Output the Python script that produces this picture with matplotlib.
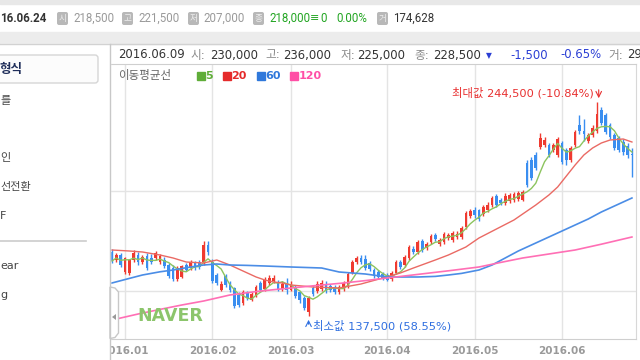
import matplotlib
matplotlib.use('Agg')
import matplotlib.pyplot as plt
from matplotlib.patches import Rectangle, FancyBboxPatch, Polygon
import numpy as np
import pandas as pd

# daily candles in thousand won, 2015-12-28 .. 2016-06-24 (120 trading days)
opens = [169.5, 165.5, 168, 159.5, 159, 165.5, 168, 164.5, 167.5, 166.5,
         166.5, 164.5, 165.5, 163, 161.5, 156, 157, 163, 161.5, 164.5,
         164.5, 164.5, 173, 164.5, 158, 150.5, 157.5, 154, 151.5, 148,
         144, 149, 145.5, 148, 154, 151, 154, 155, 154.5, 151,
         154, 150.5, 152, 149.5, 146.5, 139.5, 151.5, 150, 151, 153.5,
         152.5, 152, 149.5, 151, 152, 159, 164.5, 166.5, 166, 164,
         160.5, 159.5, 158.5, 158, 156, 159, 164.5, 163, 166.5, 171,
         169.5, 175, 171.5, 174.5, 178, 173.5, 174.5, 176.5, 175.5, 177,
         177, 182, 187.5, 190.5, 190.5, 188.5, 190.5, 193, 197.5, 195.5,
         194, 195, 195.5, 196, 195.5, 214, 215.5, 218, 222, 223,
         223, 220.5, 218, 224, 220.5, 215.5, 223, 233, 230, 225,
         228, 230, 240.5, 238, 233, 228, 226.5, 224.5, 222.5, 218.5]
highs = [171, 169, 169, 167, 166, 170.5, 169.5, 168, 169, 168.5,
         170, 168.5, 167, 164, 163, 162.5, 163, 164, 165.5, 165,
         165.5, 175, 175, 166, 159, 155, 158.5, 155, 152, 149.5,
         150.5, 150, 149.5, 153, 155, 157, 158, 158, 155.5, 155,
         156.5, 155, 153, 150, 147.5, 147.5, 152.5, 155, 155.5, 155,
         153.5, 153, 153, 155, 159.5, 165.5, 167.5, 168, 168, 165,
         161.5, 160.5, 159.5, 159, 160, 165.5, 165.5, 168, 173, 172.5,
         175.5, 176, 174.5, 178.5, 179, 176.5, 179.5, 179, 180, 180,
         182.5, 190, 191, 192, 191, 193, 194.5, 197.5, 198.5, 196.5,
         199, 199, 199.5, 200, 200.5, 215.5, 217, 219.5, 229, 227,
         224, 224, 227, 225, 221.5, 222.5, 230.5, 238, 236, 229,
         233, 244.5, 242, 239, 234, 229, 227.5, 226, 224, 221.5]
lows = [164, 164.5, 162, 158.5, 158, 164.5, 163, 163.5, 160.5, 163.5,
        165.5, 163.5, 161.5, 156.5, 155, 155, 156.5, 160, 160.5, 160.5,
        161, 163, 168, 154, 153, 150, 152, 149.5, 141.5, 142,
        143, 145.5, 145, 147, 150, 150, 153, 154, 150, 150,
        148.5, 150, 146.5, 144, 140.5, 137.5, 147.5, 149, 150, 149,
        149.5, 148.5, 148.5, 150, 151.5, 158.5, 163.5, 163.5, 160.5, 160,
        156.5, 156, 155.5, 155, 155, 158.5, 161, 162, 165.5, 168.5,
        168.5, 169.5, 170.5, 173.5, 175, 172.5, 173.5, 175.5, 174.5, 176,
        176, 181, 186.5, 186.5, 185, 187.5, 189.5, 192, 192, 193,
        193, 194, 194.5, 195, 195, 202, 205.5, 210.5, 221, 222,
        217, 219.5, 217, 213.5, 213, 214.5, 222, 228.5, 225, 224,
        227, 229, 233, 228.5, 226, 220.5, 219.5, 218, 216.5, 207]
closes = [165, 168, 163, 166.5, 165.5, 169, 164.5, 167, 161.5, 164.5,
          169, 167.5, 162.5, 157.5, 156, 161.5, 162.5, 160.5, 164.5, 161.5,
          162, 173, 169.5, 155, 154, 153.5, 153, 150.5, 142.5, 143,
          149.5, 146.5, 148.5, 152, 150.5, 155.5, 156.5, 156.5, 151, 153.5,
          150.5, 153.5, 147.5, 145.5, 141.5, 146.5, 148.5, 153.5, 154, 150,
          150.5, 149.5, 152, 154, 158.5, 164.5, 166.5, 164.5, 161.5, 161,
          157.5, 157, 156.5, 155.5, 159, 164.5, 162, 167, 172, 169.5,
          174.5, 170.5, 173.5, 177.5, 176, 175.5, 178.5, 178, 179, 178.5,
          181.5, 189, 190, 188, 186, 192, 193, 196.5, 193, 194,
          197.5, 198, 198.5, 199, 199.5, 203, 206.5, 211.5, 226.5, 225.5,
          218, 223, 226, 214.5, 215.5, 221.5, 229.5, 230, 228.5, 228,
          231.5, 238.5, 234, 229.5, 227, 221.5, 220.5, 219.5, 218, 218]

# moving averages (candle index, thousand won)
ma20_idx = [0, 4, 7, 11, 14, 17, 21, 24, 27, 29, 31, 33, 35, 37, 39, 41, 46, 52,
            57, 62, 66, 69, 74, 77, 81, 84, 88, 92, 97, 100, 102, 104, 106, 108,
            110, 112, 114, 117, 119]
ma20_val = [170.5, 170, 169.5, 168, 166.5, 164.5, 164, 165.5, 163, 161, 159,
            157, 155.5, 154.5, 154, 153, 152, 151.5, 153.5, 156.5, 159, 161.5,
            165.5, 168, 172, 176.5, 181, 185.5, 193, 198, 202, 207.5, 213, 218,
            221.5, 224, 225.5, 226, 224.5]
ma60_idx = [0, 4, 7, 11, 14, 18, 21, 24, 27, 31, 35, 41, 48, 52, 58, 63, 70,
            74, 77, 80, 84, 87, 90, 93, 97, 101, 105, 109, 112, 116, 119]
ma60_val = [154, 156.3, 158, 159.6, 160.5, 162, 163, 163.5, 163, 162.8, 162.5,
            162, 161.5, 159.5, 158.5, 157, 157, 157.3, 158, 158.8, 160.5, 163,
            166.5, 170, 174, 178, 182, 186, 189.5, 193.5, 196.5]
ma120_idx = [0, 6, 11, 16, 21, 27, 34, 41, 47, 53, 58, 63, 70, 77, 84, 89,
             94, 100, 106, 112, 119]
ma120_val = [135.5, 138.5, 140.8, 143, 145, 148, 150, 151.5, 152.8, 154, 155.2,
             156.5, 158.3, 160.1, 162, 164.3, 166.5, 168.5, 170.5, 173.4, 177]

month_labels = ['2016.01', '2016.02', '2016.03', '2016.04', '2016.05', '2016.06']
month_pos = [3, 23, 41, 63, 83, 103]

RED = '#ef3a30'
BLUE = '#3a8ef0'
KR = ['DejaVu Sans', 'Noto Sans CJK KR']
TOP = ['Roboto', 'DejaVu Sans', 'Noto Sans CJK KR']

W, H = 640, 360
fig = plt.figure(figsize=(6.4, 3.6), dpi=100)


def box(x0, y0, x1, y1):
    return [x0 / W, 1 - y1 / H, (x1 - x0) / W, (y1 - y0) / H]


# ---- price chart
ax = fig.add_axes(box(110.5, 64, 636, 339))
x = np.arange(len(closes))
o = np.array(opens)
c = np.array(closes)
cols = np.where(c >= o, RED, BLUE)
ax.vlines(x, lows, highs, colors=cols, lw=1, zorder=3)
ax.bar(x, np.maximum(np.abs(c - o), 0.6), bottom=np.minimum(o, c), width=0.62,
       color=cols, linewidth=0, zorder=4)

ma5 = pd.Series(closes).rolling(5, min_periods=1).mean()
ax.plot(x, ma5, color='#8cc45e', lw=1, zorder=5)
ax.plot(ma20_idx, ma20_val, color='#ea6a64', lw=1, zorder=5)
ax.plot(ma60_idx, ma60_val, color='#4b8de6', lw=1.2, zorder=5)
ax.plot(ma120_idx, ma120_val, color='#ff6fb5', lw=1.2, zorder=5)

ax.set_xlim(-0.32, 119.93)
ax.set_ylim(126, 263.5)
ax.set_xticks(month_pos)
ax.set_xticklabels(month_labels, fontsize=7.5, fontweight='bold', color='#9a9a9a')
ax.set_yticks([150, 200])
ax.set_yticklabels([])
ax.tick_params(length=0, pad=5)
ax.grid(True, color='#e4e4e4', lw=1)
ax.set_axisbelow(True)
ax.spines['left'].set_visible(False)
ax.spines['top'].set_color('#cfcfcf')
ax.spines['right'].set_color('#d8d8d8')
ax.spines['bottom'].set_color('#cfcfcf')

imax = int(np.argmax(highs))
imin = int(np.argmin(lows))
ax.annotate('', xy=(imax + 0.4, highs[imax] + 0.5), xytext=(imax + 0.4, highs[imax] + 7.5),
            arrowprops=dict(arrowstyle='->', color='#e83030', lw=0.8), annotation_clip=False)
ax.text(imax - 0.7, highs[imax] + 4.5, '최대값 244,500 (-10.84%)', ha='right', va='center',
        fontsize=8.2, color='#e83030', family=KR)
ax.annotate('', xy=(imin, lows[imin] - 0.5), xytext=(imin, lows[imin] - 5.5),
            arrowprops=dict(arrowstyle='->', color='#2f6fe0', lw=0.8), annotation_clip=False)
ax.text(imin + 1.1, lows[imin] - 5, '최소값 137,500 (58.55%)', ha='left', va='center',
        fontsize=8.2, color='#2f6fe0', family=KR)

# ---- page furniture in pixel coordinates
ov = fig.add_axes([0, 0, 1, 1], zorder=5)
ov.set_xlim(0, W)
ov.set_ylim(H, 0)
ov.axis('off')
ov.patch.set_alpha(0)

ov.add_patch(Rectangle((0, 0), W, 3.5, color='#e8e8e8'))
ov.add_patch(Rectangle((0, 31.5), W, 12, color='#ececec'))
ov.plot([0, W], [43.5, 43.5], color='#d2d2d2', lw=1)

# top quote bar
ov.text(0, 18, '16.06.24', fontsize=8.3, fontweight='bold', color='#333333',
        family=TOP, va='center')
for ix, ch, vx, val, vc in [(57, '시', 73, '218,500', '#9a9a9a'),
                            (122, '고', 138, '221,500', '#9a9a9a'),
                            (188, '저', 203, '207,000', '#9a9a9a'),
                            (253, '종', 269, '218,000', '#22a522'),
                            (377, '거', 393, '174,628', '#333333')]:
    ov.add_patch(FancyBboxPatch((ix, 12), 11, 13, boxstyle='round,pad=0,rounding_size=2',
                                fc='#b8b8b8', ec='none'))
    ov.text(ix + 5.5, 18.5, ch, fontsize=6.2, color='#eeeeee', ha='center', va='center',
            family=KR)
    ov.text(vx, 18, val, fontsize=8.3, color=vc, family=TOP, va='center')
ov.text(310, 18, '≡', fontsize=8, color='#22a522', family=TOP, va='center')
ov.text(320, 18, '0', fontsize=8.3, color='#22a522', family=TOP, va='center')
ov.text(336, 18, '0.00%', fontsize=8.3, color='#22a522', family=TOP, va='center')

# left panel
ov.add_patch(Rectangle((0, 44), 110, H - 44, color='white'))
ov.plot([110, 110], [43.5, H], color='#c8c8c8', lw=1)
ov.add_patch(FancyBboxPatch((-6, 55), 104, 28, boxstyle='round,pad=0,rounding_size=3',
                            fc='#fcfcfc', ec='#d6d6d6', lw=1))
ov.text(-1, 69, '형식', fontsize=9, fontweight='bold', color='#1f2e5a', va='center',
        family=KR)
for ty, s in [(101, '를'), (158, '인'), (187, '선전환'), (216, 'F'), (266, 'ear'), (295, 'g')]:
    ov.text(0, ty, s, fontsize=8, color='#444444', va='center', family=KR)
ov.plot([0, 86], [241, 241], color='#cccccc', lw=1.2)

# tab on the chart edge
ov.add_patch(Polygon([(110, 287), (115, 288), (118.5, 292), (118.5, 333), (115, 337.5),
                      (110, 338.5)], closed=True, fc='white', ec='#c8c8c8', lw=1))
ov.add_patch(Polygon([(116, 314), (116, 320), (112, 317)], closed=True, fc='#999999',
                     ec='none'))

# info row
ov.text(118, 55, '2016.06.09', fontsize=8.4, color='#333333', va='center', family=KR)
for lx, lab, vx, val in [(190, '시:', 210, '230,000'), (265, '고:', 283, '236,000'),
                         (341, '저:', 357, '225,000'), (414, '종:', 433, '228,500')]:
    ov.text(lx, 55, lab, fontsize=8.4, color='#8a8a8a', va='center', family=KR)
    ov.text(vx, 55, val, fontsize=8.4, color='#333333', va='center', family=KR)
ov.text(486, 56, '▼', fontsize=5.5, color='#2b3fd4', va='center', family=KR)
ov.text(510, 55, '-1,500', fontsize=8.4, color='#2b3fd4', va='center', family=KR)
ov.text(560, 55, '-0.65%', fontsize=8.4, color='#2b3fd4', va='center', family=KR)
ov.text(608, 55, '거:', fontsize=8.4, color='#8a8a8a', va='center', family=KR)
ov.text(627, 55, '29', fontsize=8.4, color='#333333', va='center', family=KR)

# moving-average legend
ov.text(118, 76, '이동평균선', fontsize=8.3, color='#666666', va='center', family=KR)
for sx, lab, col in [(197, '5', '#5fad38'), (223, '20', '#e52b2b'),
                     (257, '60', '#2f78db'), (290, '120', '#ff4fa6')]:
    ov.add_patch(Rectangle((sx, 72), 8, 8, color=col))
    ov.text(sx + 8.5, 76, lab, fontsize=8, fontweight='bold', color=col, va='center',
            family=KR)

ov.text(170, 316, 'NAVER', fontsize=12.5, fontweight='heavy', color='#8cc56c',
        ha='center', va='center', family='DejaVu Sans')

fig.savefig('out.png', dpi=100)
